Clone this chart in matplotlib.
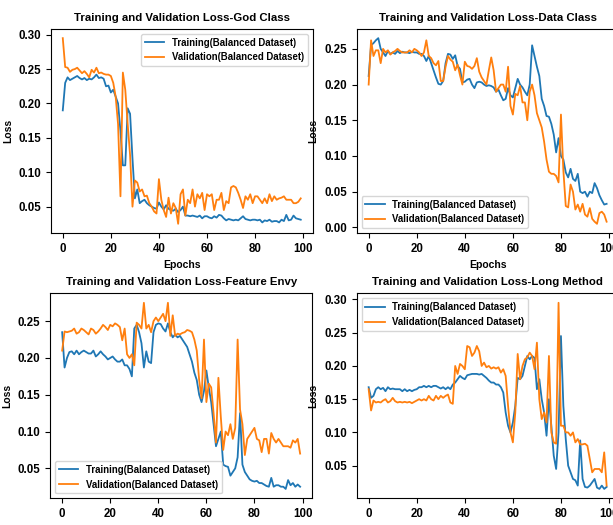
import matplotlib.pyplot as plt
import numpy as np

plt.rcParams["font.family"] = "Liberation Sans"
plt.rcParams["font.weight"] = "bold"
plt.rcParams["axes.titleweight"] = "bold"
plt.rcParams["axes.labelweight"] = "bold"

epochs = np.arange(100)

god_train = [0.19, 0.23, 0.238, 0.234, 0.236, 0.238, 0.24, 0.237, 0.235, 0.237,
             0.234, 0.236, 0.235, 0.238, 0.242, 0.237, 0.238, 0.236, 0.225, 0.226,
             0.216, 0.22, 0.21, 0.2, 0.16, 0.11, 0.11, 0.193, 0.185, 0.12,
             0.062, 0.075, 0.055, 0.058, 0.06, 0.055, 0.052, 0.05, 0.048, 0.047,
             0.056, 0.05, 0.046, 0.052, 0.047, 0.045, 0.044, 0.047, 0.042, 0.045,
             0.05, 0.037, 0.037, 0.036, 0.037, 0.036, 0.035, 0.037, 0.033, 0.036,
             0.036, 0.034, 0.033, 0.036, 0.034, 0.038, 0.037, 0.033, 0.03, 0.032,
             0.031, 0.03, 0.031, 0.03, 0.033, 0.036, 0.032, 0.031, 0.03, 0.031,
             0.031, 0.03, 0.031, 0.027, 0.03, 0.029, 0.031, 0.028, 0.029, 0.029,
             0.027, 0.031, 0.029, 0.038, 0.03, 0.031, 0.037, 0.033, 0.032, 0.031]
god_val = [0.295, 0.253, 0.252, 0.246, 0.249, 0.25, 0.252, 0.248, 0.244, 0.247,
           0.243, 0.238, 0.249, 0.245, 0.252, 0.244, 0.245, 0.243, 0.242, 0.242,
           0.24, 0.23, 0.21, 0.17, 0.065, 0.245, 0.22, 0.17, 0.125, 0.05,
           0.088, 0.085, 0.072, 0.075, 0.065, 0.066, 0.055, 0.05, 0.043, 0.04,
           0.09, 0.06, 0.045, 0.035, 0.063, 0.04, 0.055, 0.048, 0.025, 0.068,
           0.075, 0.037, 0.06, 0.055, 0.075, 0.05, 0.068, 0.062, 0.07, 0.045,
           0.068, 0.065, 0.068, 0.045, 0.06, 0.06, 0.07, 0.045, 0.058, 0.055,
           0.078, 0.08, 0.078, 0.07, 0.06, 0.048, 0.065, 0.06, 0.068, 0.055,
           0.065, 0.065, 0.06, 0.055, 0.062, 0.055, 0.068, 0.058, 0.065, 0.06,
           0.062, 0.063, 0.065, 0.06, 0.06, 0.06, 0.055, 0.055, 0.057, 0.062]

data_train = [0.212, 0.255, 0.258, 0.262, 0.265, 0.25, 0.245, 0.24, 0.247, 0.243,
              0.245, 0.243, 0.247, 0.244, 0.246, 0.245, 0.245, 0.244, 0.246, 0.245,
              0.245, 0.243, 0.243, 0.24, 0.233, 0.24, 0.23, 0.22, 0.21, 0.201,
              0.2, 0.205, 0.23, 0.243, 0.242, 0.236, 0.241, 0.226, 0.222, 0.203,
              0.204, 0.207, 0.208, 0.2, 0.195, 0.203, 0.204, 0.203, 0.2, 0.198,
              0.199, 0.198, 0.196, 0.19, 0.193, 0.185, 0.178, 0.18, 0.195, 0.185,
              0.182, 0.195, 0.208, 0.2, 0.196, 0.19, 0.185, 0.2, 0.255, 0.24,
              0.225, 0.212, 0.18, 0.17, 0.156, 0.155, 0.145, 0.13, 0.105, 0.125,
              0.1, 0.095, 0.077, 0.07, 0.082, 0.068, 0.065, 0.075, 0.05, 0.048,
              0.05, 0.043, 0.05, 0.048, 0.062, 0.055, 0.045, 0.038, 0.032, 0.033]
data_val = [0.2, 0.262, 0.24, 0.248, 0.248, 0.23, 0.25, 0.245, 0.248, 0.242,
            0.245, 0.247, 0.25, 0.247, 0.245, 0.245, 0.245, 0.248, 0.245, 0.25,
            0.248, 0.245, 0.24, 0.245, 0.262, 0.24, 0.237, 0.23, 0.227, 0.233,
            0.205, 0.205, 0.225, 0.24, 0.235, 0.232, 0.22, 0.228, 0.213, 0.2,
            0.232, 0.226, 0.225, 0.222, 0.226, 0.237, 0.218, 0.21, 0.205, 0.2,
            0.22, 0.238, 0.22, 0.19, 0.195, 0.2, 0.2, 0.19, 0.225, 0.17,
            0.158, 0.187, 0.185, 0.198, 0.175, 0.175, 0.15, 0.19, 0.2, 0.185,
            0.16, 0.15, 0.14, 0.12, 0.095, 0.078, 0.075, 0.075, 0.072, 0.063,
            0.158, 0.08, 0.03, 0.028, 0.06, 0.05, 0.025, 0.032, 0.022, 0.033,
            0.018, 0.015, 0.027, 0.012, 0.008, 0.005, 0.02, 0.022, 0.018, 0.008]

fe_train = [0.235, 0.187, 0.2, 0.208, 0.209, 0.205, 0.21, 0.205, 0.208, 0.21,
            0.208, 0.206, 0.206, 0.21, 0.202, 0.205, 0.209, 0.205, 0.202, 0.198,
            0.2, 0.202, 0.198, 0.195, 0.195, 0.198, 0.19, 0.19, 0.185, 0.175,
            0.24, 0.245, 0.235, 0.22, 0.187, 0.209, 0.195, 0.193, 0.235, 0.245,
            0.247, 0.246, 0.24, 0.236, 0.247, 0.235, 0.228, 0.232, 0.228, 0.23,
            0.225, 0.22, 0.215, 0.205, 0.195, 0.18, 0.17, 0.15, 0.14, 0.155,
            0.183, 0.16, 0.14, 0.11, 0.08, 0.09, 0.1, 0.055, 0.053, 0.052,
            0.04, 0.045, 0.05, 0.065, 0.125, 0.055, 0.045, 0.04, 0.035, 0.033,
            0.032, 0.033, 0.03, 0.03, 0.028, 0.026, 0.025, 0.037, 0.025, 0.027,
            0.027, 0.025, 0.025, 0.022, 0.034, 0.027, 0.03, 0.025, 0.028, 0.025]
fe_val = [0.21, 0.236, 0.235, 0.236, 0.237, 0.24, 0.233, 0.235, 0.24, 0.238,
          0.235, 0.232, 0.24, 0.238, 0.233, 0.236, 0.24, 0.245, 0.242, 0.238,
          0.245, 0.243, 0.247, 0.245, 0.242, 0.224, 0.24, 0.205, 0.2, 0.205,
          0.19, 0.248, 0.245, 0.24, 0.275, 0.24, 0.245, 0.235, 0.25, 0.255,
          0.25, 0.255, 0.26, 0.25, 0.275, 0.23, 0.258, 0.23, 0.233, 0.232,
          0.234, 0.235, 0.238, 0.237, 0.235, 0.225, 0.21, 0.17, 0.145, 0.225,
          0.14, 0.165, 0.16, 0.125, 0.085, 0.173, 0.12, 0.075, 0.1, 0.095,
          0.11, 0.09, 0.105, 0.225, 0.13, 0.11, 0.068, 0.09, 0.095, 0.1,
          0.105, 0.09, 0.088, 0.072, 0.09, 0.09, 0.07, 0.098, 0.09, 0.085,
          0.09, 0.085, 0.08, 0.08, 0.08, 0.078, 0.088, 0.085, 0.09, 0.07]

lm_train = [0.168, 0.152, 0.155, 0.165, 0.168, 0.165, 0.167, 0.162, 0.168, 0.165,
            0.166, 0.165, 0.165, 0.165, 0.162, 0.165, 0.162, 0.164, 0.162, 0.164,
            0.165, 0.168, 0.168, 0.17, 0.168, 0.17, 0.168, 0.17, 0.17, 0.168,
            0.166, 0.168, 0.165, 0.168, 0.165, 0.172, 0.175, 0.18, 0.185, 0.182,
            0.18, 0.186, 0.187, 0.188, 0.188, 0.188, 0.187, 0.188, 0.185, 0.182,
            0.178, 0.175, 0.175, 0.172, 0.172, 0.168, 0.16, 0.13, 0.11, 0.1,
            0.115, 0.14, 0.182, 0.18, 0.185, 0.2, 0.215, 0.21, 0.215, 0.212,
            0.165, 0.18, 0.15, 0.13, 0.095, 0.15, 0.11, 0.065, 0.045, 0.1,
            0.245, 0.14, 0.09, 0.05, 0.04, 0.03, 0.028, 0.02, 0.088, 0.03,
            0.018, 0.017, 0.02, 0.025, 0.03, 0.017, 0.015, 0.02, 0.015, 0.018]
lm_val = [0.165, 0.133, 0.148, 0.145, 0.146, 0.145, 0.148, 0.15, 0.145, 0.147,
          0.152, 0.147, 0.145, 0.146, 0.145, 0.146, 0.145, 0.146, 0.144, 0.146,
          0.148, 0.15, 0.148, 0.15, 0.148, 0.155, 0.15, 0.148, 0.155, 0.15,
          0.155, 0.152, 0.155, 0.157, 0.145, 0.143, 0.2, 0.188, 0.203, 0.2,
          0.195, 0.23, 0.228, 0.215, 0.22, 0.23, 0.222, 0.2, 0.205, 0.198,
          0.2, 0.196, 0.198, 0.196, 0.198, 0.19, 0.195, 0.185, 0.14, 0.1,
          0.085, 0.13, 0.218, 0.18, 0.2, 0.21, 0.213, 0.22, 0.215, 0.195,
          0.235, 0.15, 0.12, 0.13, 0.115, 0.215, 0.1, 0.085, 0.083, 0.295,
          0.11, 0.11, 0.1, 0.1, 0.095, 0.1, 0.085, 0.09, 0.082, 0.082,
          0.083, 0.08, 0.06, 0.04, 0.045, 0.045, 0.045, 0.04, 0.07, 0.02]

# (title suffix, training, validation, legend loc, axes rect in figure fraction)
# right-hand panels run past the right edge, as in the cropped original
panels = [
    ("God Class", god_train, god_val, "upper right", [0.083, 0.556, 0.427, 0.389]),
    ("Data Class", data_train, data_val, "lower left", [0.582, 0.556, 0.427, 0.389]),
    ("Feature Envy", fe_train, fe_val, "lower left", [0.082, 0.051, 0.427, 0.390]),
    ("Long Method", lm_train, lm_val, "upper left", [0.582, 0.051, 0.427, 0.390]),
]

fig = plt.figure(figsize=(6.13, 5.25), dpi=100)

for name, train, val, loc, pos in panels:
    ax = fig.add_axes(pos)
    ax.plot(epochs, train, color="tab:blue", lw=1.3, label="Training(Balanced Dataset)")
    ax.plot(epochs, val, color="tab:orange", lw=1.3, label="Validation(Balanced Dataset)")
    ax.set_title("Training and Validation Loss-" + name, fontsize=8.2)
    ax.set_xlabel("Epochs", fontsize=7.5)
    ax.set_ylabel("Loss", fontsize=7.5)
    ax.set_xticks([0, 20, 40, 60, 80, 100])
    ax.tick_params(labelsize=8.3)
    ax.legend(loc=loc, fontsize=6.9)

plt.savefig("out.png", dpi=100)
